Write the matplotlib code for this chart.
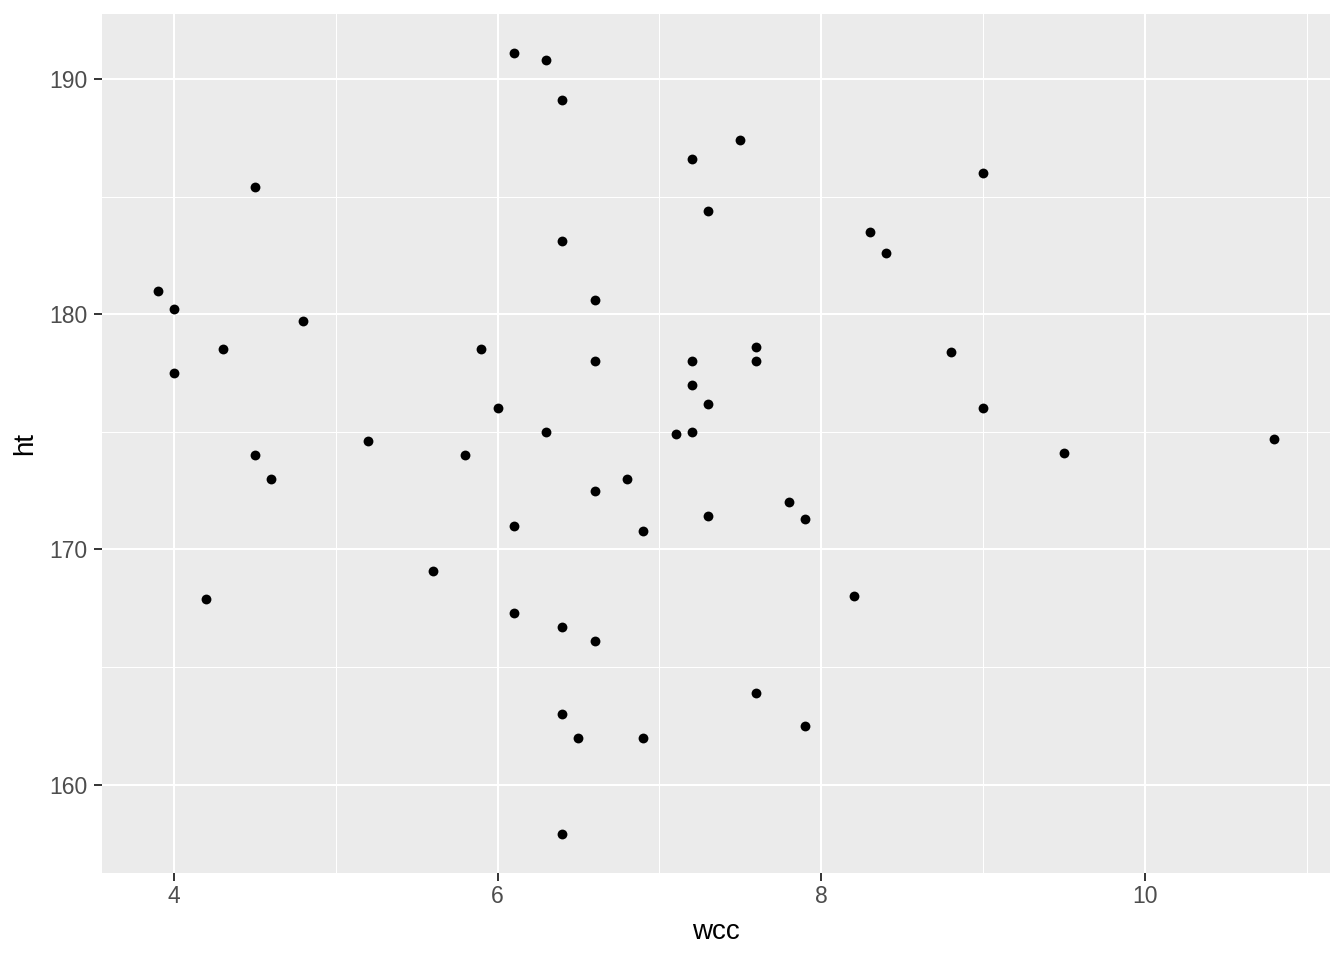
import matplotlib.pyplot as plt
import numpy as np

plt.rcParams['font.family'] = ['Liberation Sans', 'DejaVu Sans']

# values
wcc = [6.1, 6.3, 6.4, 7.5, 7.2, 9.0, 4.5, 7.3, 8.3, 6.4, 8.4, 3.9, 6.6, 4.0,
       4.8, 4.3, 5.9, 7.6, 8.8, 6.6, 7.2, 7.6, 4.0, 7.2, 7.3, 6.0, 9.0, 6.3,
       7.1, 7.2, 5.2, 10.8, 4.5, 5.8, 9.5, 4.6, 6.8, 6.6, 7.8, 7.3, 7.9, 6.1,
       6.9, 5.6, 4.2, 8.2, 6.1, 6.4, 6.6, 7.6, 7.9, 6.4, 6.5, 6.9, 6.4]
ht = [191.1, 190.8, 189.1, 187.4, 186.6, 186.0, 185.4, 184.4, 183.5, 183.1,
      182.6, 181.0, 180.6, 180.2, 179.7, 178.5, 178.5, 178.6, 178.4, 178.0,
      178.0, 178.0, 177.5, 177.0, 176.2, 176.0, 176.0, 175.0, 174.9, 175.0,
      174.6, 174.7, 174.0, 174.0, 174.1, 173.0, 173.0, 172.5, 172.0, 171.4,
      171.3, 171.0, 170.8, 169.1, 167.9, 168.0, 167.3, 166.7, 166.1, 163.9,
      162.5, 163.0, 162.0, 162.0, 157.9]

x = np.array(wcc)
y = np.array(ht)

fig = plt.figure(figsize=(13.44, 9.6), dpi=100)
ax = fig.add_axes([102/1344, 1-873/960, (1330-102)/1344, (873-14)/960])
ax.set_facecolor('#EBEBEB')

# ggplot style 5% expansion
xr = x.max() - x.min()
yr = y.max() - y.min()
ax.set_xlim(x.min() - 0.05*xr, x.max() + 0.05*xr)
ax.set_ylim(y.min() - 0.05*yr, y.max() + 0.05*yr)

ax.set_xticks([4, 6, 8, 10])
ax.set_yticks([160, 170, 180, 190])
ax.set_xticks([5, 7, 9, 11], minor=True)
ax.set_yticks([165, 175, 185], minor=True)

ax.grid(which='major', color='white', linewidth=1.5)
ax.grid(which='minor', color='white', linewidth=0.75)
ax.set_axisbelow(True)
for s in ax.spines.values():
    s.set_visible(False)

ax.tick_params(which='major', length=5.5, width=1.4, color='#333333',
               labelsize=16.5, labelcolor='#4D4D4D')
ax.tick_params(axis='x', pad=3)
ax.tick_params(axis='y', pad=5)
ax.tick_params(which='minor', length=0)

ax.scatter(x, y, s=50, color='black', zorder=3, linewidths=0)

ax.set_xlabel('wcc', fontsize=20, color='black', labelpad=8)
ax.set_ylabel('ht', fontsize=20, color='black', labelpad=8)

fig.savefig('out.png', dpi=100)
